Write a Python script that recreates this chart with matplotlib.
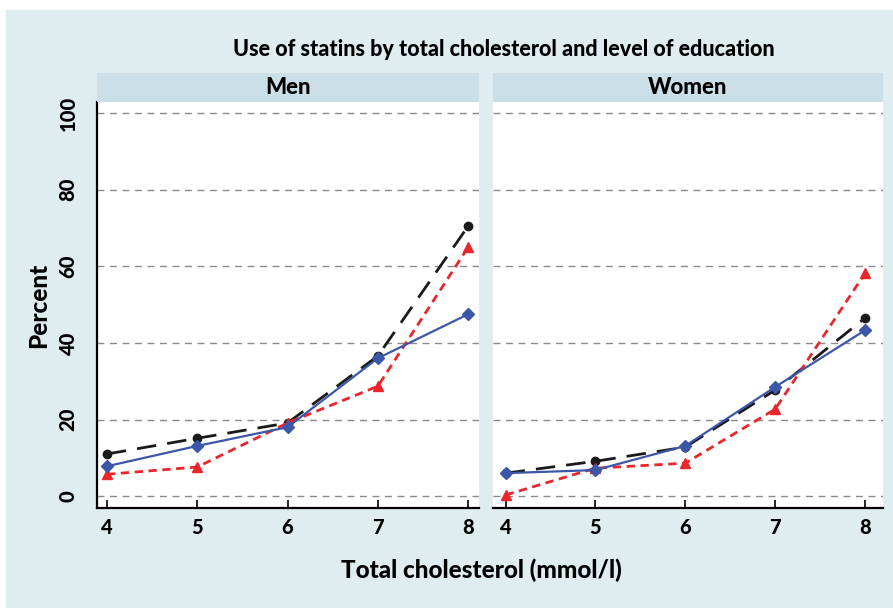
import matplotlib
matplotlib.use("Agg")
import matplotlib.pyplot as plt
from matplotlib.patches import Rectangle

plt.rcParams['font.family'] = ['Lato', 'DejaVu Sans']

chol = [4, 5, 6, 7, 8]
panels = ["Men", "Women"]
men_black = [11.0, 15.1, 19.1, 36.6, 70.5]
men_blue = [7.8, 13.1, 18.0, 36.0, 47.5]
men_red = [5.7, 7.6, 19.1, 28.7, 65.0]
women_black = [6.0, 9.1, 12.8, 27.7, 46.5]
women_blue = [6.0, 6.8, 13.1, 28.5, 43.3]
women_red = [0.3, 7.3, 8.6, 22.7, 58.2]
yticks = [0, 20, 40, 60, 80, 100]

W, H = 893, 608
fig = plt.figure(figsize=(W / 100, H / 100), dpi=100)
fig.patch.set_facecolor("white")
bg = "#dfecf0"
strip_c = "#cadfe7"
fig.patches.append(Rectangle((6 / W, 1 / H), 1 - 6 / W, (598 - 1) / H,
                             transform=fig.transFigure, color=bg, zorder=-10))

def px_axes(x0, x1, ytop, ybot):
    return [x0 / W, 1 - ybot / H, (x1 - x0) / W, (ybot - ytop) / H]

data = [(men_black, men_blue, men_red), (women_black, women_blue, women_red)]
boxes = [(97, 479), (493, 883)]
xlims = [(3.89, 8.12), (3.86, 8.2)]
FW = 900

for i, (name, (x0, x1), d, xl) in enumerate(zip(panels, boxes, data, xlims)):
    ax = fig.add_axes(px_axes(x0, x1, 102, 508))
    ax.set_facecolor("white")
    for y in yticks:
        ax.axhline(y, color="#8a8a8a", lw=1.0, ls=(0, (5, 4)), zorder=1)
    blk, blu, red = d
    ax.plot(chol, blk, color="#1a1a1a", lw=2.0, ls=(0, (7, 4)), marker="o",
            ms=6, zorder=3)
    ax.plot(chol, red, color="#e8262b", lw=2.0, ls=(0, (3, 2)), marker="^",
            ms=7, zorder=4)
    ax.plot(chol, blu, color="#3c56a8", lw=1.6, ls="-", marker="D",
            ms=6, zorder=5)
    ax.set_xlim(*xl)
    ax.set_ylim(-3.1, 102.9)
    ax.set_xticks(chol)
    ax.set_xticklabels([str(c) for c in chol], fontweight=FW, fontsize=14.5)
    ax.tick_params(axis="x", direction="in", length=6, width=1.2, pad=7)
    for s in ["top", "right"]:
        ax.spines[s].set_visible(False)
    ax.spines["bottom"].set_linewidth(1.6)
    if i == 0:
        ax.spines["left"].set_linewidth(1.6)
        ax.set_yticks(yticks)
        ax.set_yticklabels([str(y) for y in yticks], fontweight=FW,
                           fontsize=14.5, rotation=90, va="center")
        ax.tick_params(axis="y", direction="in", length=0, pad=14)
        ax.set_ylabel("Percent", fontweight=FW, fontsize=17.5, labelpad=6)
    else:
        ax.spines["left"].set_visible(False)
        ax.set_yticks([])
    sax = fig.add_axes(px_axes(x0, x1, 73, 102))
    sax.set_facecolor(strip_c)
    sax.set_xticks([]); sax.set_yticks([])
    for s in sax.spines.values():
        s.set_visible(False)
    sax.text(0.5, 0.5, name, ha="center", va="center", fontweight=FW,
             fontsize=16, transform=sax.transAxes)

fig.text(504 / W, 1 - 49 / H, "Use of statins by total cholesterol and level of education",
         ha="center", va="center", fontweight=FW, fontsize=15.5)
fig.text(481 / W, 1 - 570 / H, "Total cholesterol (mmol/l)", ha="center",
         va="center", fontweight=FW, fontsize=17.5)

fig.savefig("out.png", dpi=100, facecolor=fig.get_facecolor())
